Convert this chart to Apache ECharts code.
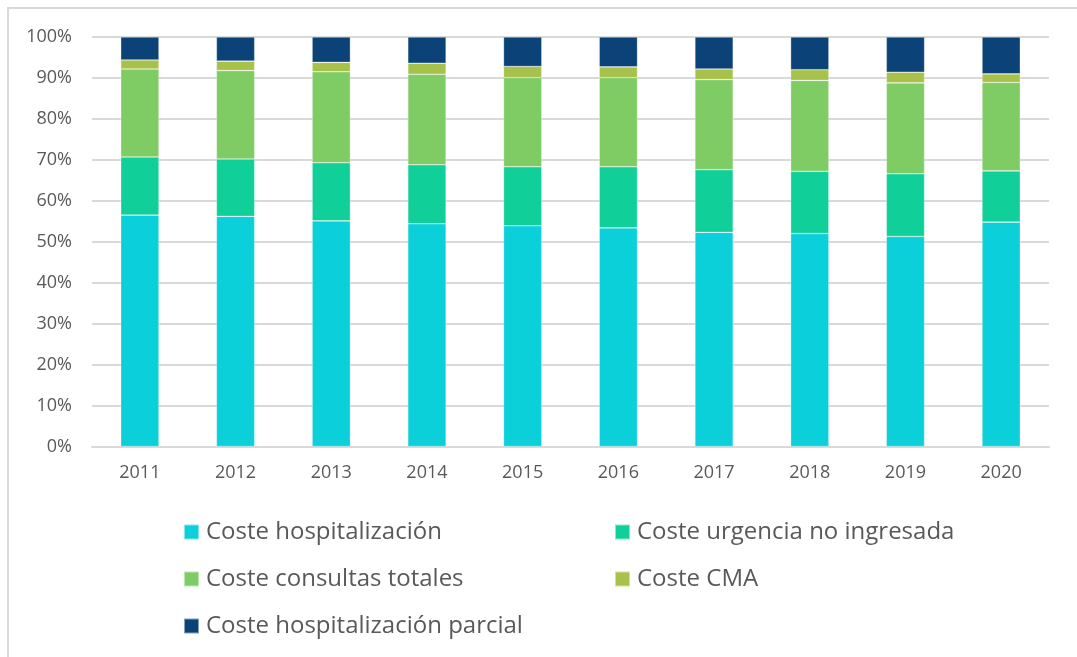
<!DOCTYPE html>
<html>
<head>
<meta charset="utf-8">
<script src="https://cdn.jsdelivr.net/npm/echarts@6/dist/echarts.min.js"></script>
<style>
  html, body { margin: 0; padding: 0; background: #fff; }
  #chart { width: 1077px; height: 657px; }
</style>
</head>
<body>
<div id="chart"></div>
<script>
const years = ['2011', '2012', '2013', '2014', '2015', '2016', '2017', '2018', '2019', '2020']

// shares in %
const hospitalizacion = [56.5, 56.2, 55.1, 54.4, 53.9, 53.4, 52.3, 52.0, 51.3, 54.8]
const urgencia = [14.2, 14.0, 14.2, 14.4, 14.4, 14.9, 15.3, 15.2, 15.3, 12.5]
const consultas = [21.5, 21.6, 22.2, 22.1, 21.8, 21.8, 22.0, 22.2, 22.2, 21.6]
const cma = [2.2, 2.3, 2.3, 2.7, 2.7, 2.6, 2.6, 2.6, 2.6, 2.1]
const parcial = [5.6, 5.9, 6.2, 6.4, 7.2, 7.3, 7.8, 8.0, 8.6, 9.0]

const seriesList = [
  { name: 'Coste hospitalización', data: hospitalizacion, color: '#0BCFD9' },
  { name: 'Coste urgencia no ingresada', data: urgencia, color: '#11CF98' },
  { name: 'Coste consultas totales', data: consultas, color: '#7FCB64' },
  { name: 'Coste CMA', data: cma, color: '#A7C14A' },
  { name: 'Coste hospitalización parcial', data: parcial, color: '#0B4378' }
]

const textColor = '#595959'
const gridColor = '#D9D9D9'
const fontFamily = '"Open Sans", "Noto Sans", sans-serif'

const legendBase = {
  orient: 'vertical',
  top: 518,
  padding: 0,
  itemWidth: 15,
  itemHeight: 15,
  itemGap: 19,
  icon: 'rect',
  selectedMode: false,
  textStyle: {
    color: textColor,
    fontSize: 24,
    lineHeight: 28,
    fontFamily,
    padding: [0, 0, 0, 2]
  }
}

const chart = echarts.init(document.getElementById('chart'))

chart.setOption({
  animation: false,
  textStyle: { fontFamily },
  grid: {
    left: 92,
    right: 28,
    top: 37,
    bottom: 210.5
  },
  legend: [
    {
      ...legendBase,
      left: 183,
      data: [seriesList[0].name, seriesList[2].name, seriesList[4].name]
    },
    {
      ...legendBase,
      left: 614,
      data: [seriesList[1].name, seriesList[3].name]
    }
  ],
  xAxis: {
    type: 'category',
    data: years,
    axisLine: { lineStyle: { color: gridColor, width: 2 } },
    axisTick: { show: false },
    axisLabel: {
      color: textColor,
      fontSize: 18,
      margin: 17
    }
  },
  yAxis: {
    type: 'value',
    min: 0,
    max: 100,
    interval: 10,
    axisLine: { show: false },
    axisTick: { show: false },
    axisLabel: {
      color: textColor,
      fontSize: 18,
      margin: 20,
      formatter: (value) => `${value}%`
    },
    splitLine: { lineStyle: { color: gridColor, width: 2 } }
  },
  series: seriesList.map((item) => ({
    name: item.name,
    type: 'bar',
    stack: 'total',
    barWidth: '40%',
    data: item.data,
    itemStyle: {
      color: item.color,
      borderColor: 'rgba(255,255,255,0.5)',
      borderWidth: 0.6
    }
  })),
  graphic: [
    {
      type: 'rect',
      shape: { x: 8, y: 8, width: 1100, height: 700 },
      style: { fill: 'none', stroke: gridColor, lineWidth: 2 },
      silent: true
    }
  ]
})
</script>
</body>
</html>
